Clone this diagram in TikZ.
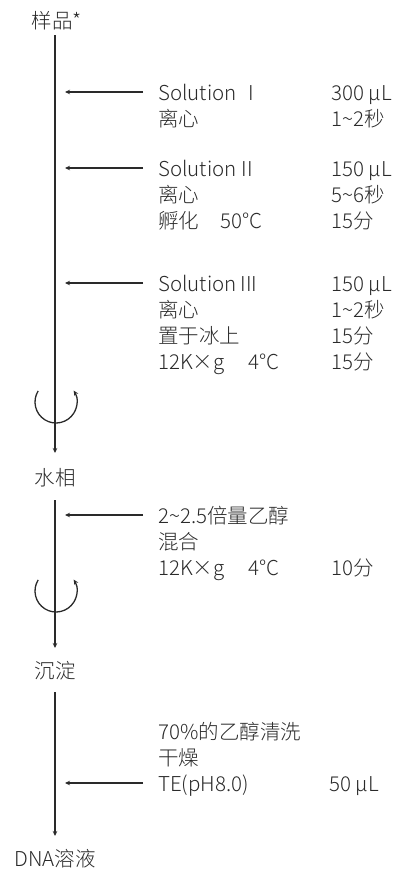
\documentclass[tikz,border=0pt]{standalone}
\usepackage{fontspec}
\setmainfont{Noto Sans CJK SC}[UprightFont={* Light}]
\usetikzlibrary{arrows.meta,calc}
\definecolor{ink}{HTML}{2A2A2A}
\definecolor{lineink}{HTML}{2A2A2A}
\begin{document}
\begin{tikzpicture}[x=1pt,y=-1pt,
  txt/.style={inner sep=0pt, text=ink, font=\fontsize{20.5}{24}\selectfont},
  lbl/.style={txt, anchor=base west},
  stage/.style={txt, anchor=base},
  flow/.style={line width=1.3pt, draw=lineink, -{Stealth[length=5pt,width=4.5pt]}},
  spin/.style={line width=1.3pt, draw=lineink, -{Stealth[length=5pt,width=4.5pt]}}]
\useasboundingbox (0,0) rectangle (395,870);
% stage labels
\node[stage] (s0) at (57,28) {样品*};
\node[stage] (s1) at (55,485) {水相};
\node[stage] (s2) at (55,678) {沉淀};
\node[stage] (s3) at (55,866) {DNA溶液};
% main line coordinates
\coordinate (t0) at (55,35);  \coordinate (b0) at (55,453);
\coordinate (t1) at (55,500); \coordinate (b1) at (55,648);
\coordinate (t2) at (55,692); \coordinate (b2) at (55,836);
\draw[flow] (t0) -- (b0);
\draw[flow] (t1) -- (b1);
\draw[flow] (t2) -- (b2);
% spin symbols
\coordinate (c0) at (56,402);
\coordinate (c1) at (56,591);
\draw[spin] ($(c0)+(212:21)$) arc[start angle=212, end angle=-33, radius=21];
\draw[spin] ($(c1)+(212:21)$) arc[start angle=212, end angle=-33, radius=21];
% feed arrows
\coordinate (f1) at (143,92);  \coordinate (h1) at (65,92);
\coordinate (f2) at (143,168); \coordinate (h2) at (65,168);
\coordinate (f3) at (143,283); \coordinate (h3) at (65,283);
\coordinate (f4) at (143,515); \coordinate (h4) at (65,515);
\coordinate (f5) at (143,783); \coordinate (h5) at (65,783);
\foreach \i in {1,...,5} \draw[flow] (f\i) -- (h\i);
% block 1
\node[lbl] (a1) at (158,100) {Solution\hspace{12pt}I};
\node[lbl] (a2) at (158,126) {离心};
\node[lbl] (v1) at (331,100) {300 μL};
\node[lbl] (v2) at (331,126) {1\textasciitilde 2秒};
% block 2
\node[lbl] (b21) at (158,176) {Solution\hspace{5pt}II};
\node[lbl] (b22) at (158,202) {离心};
\node[lbl] (b23) at (158,228) {孵化};
\node[lbl] (b23b) at (220,228) {50°C};
\node[lbl] (w1) at (331,176) {150 μL};
\node[lbl] (w2) at (331,202) {5\textasciitilde 6秒};
\node[lbl] (w3) at (331,228) {15分};
% block 3
\node[lbl] (c31) at (158,291) {Solution\hspace{4pt}III};
\node[lbl] (c32) at (158,317) {离心};
\node[lbl] (c33) at (158,343) {置于冰上};
\node[lbl] (c34) at (158,369) {12K×g};
\node[lbl] (c34b) at (248,369) {4°C};
\node[lbl] (x1) at (331,291) {150 μL};
\node[lbl] (x2) at (331,317) {1\textasciitilde 2秒};
\node[lbl] (x3) at (331,343) {15分};
\node[lbl] (x4) at (331,369) {15分};
% block 4
\node[lbl] (d1) at (158,523) {2\textasciitilde 2.5倍量乙醇};
\node[lbl] (d2) at (158,549) {混合};
\node[lbl] (d3) at (158,575) {12K×g};
\node[lbl] (d3b) at (248,575) {4°C};
\node[lbl] (y3) at (331,575) {10分};
% block 5
\node[lbl] (e1) at (158,739) {70\%的乙醇清洗};
\node[lbl] (e2) at (158,765) {干燥};
\node[lbl] (e3) at (158,791) {TE(pH8.0)};
\node[lbl] (z3) at (329,791) {50 μL};
\end{tikzpicture}
\end{document}
